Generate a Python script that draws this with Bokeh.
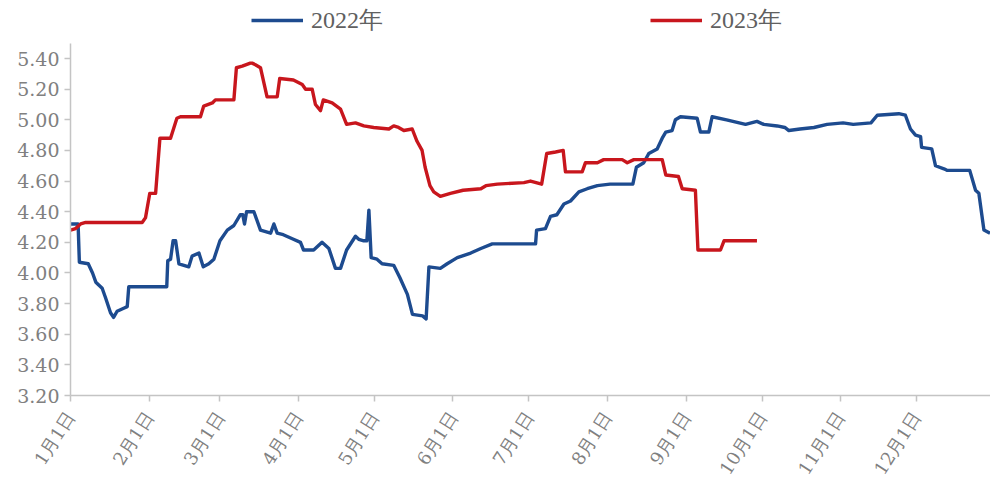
from bokeh.plotting import figure
from bokeh.models import Range1d, FixedTicker, Legend, LegendItem, NumeralTickFormatter
from bokeh.embed import file_html
from bokeh.resources import INLINE

# ---- data ----
tick_days = [0, 31, 59, 90, 120, 151, 181, 212, 243, 273, 304, 334]
tick_labels = ["1月1日", "2月1日", "3月1日", "4月1日", "5月1日", "6月1日",
               "7月1日", "8月1日", "9月1日", "10月1日", "11月1日", "12月1日"]
y_ticks = [3.20, 3.40, 3.60, 3.80, 4.00, 4.20, 4.40, 4.60, 4.80, 5.00, 5.20, 5.40]

day_2022 = [0, 3, 3.5, 7, 8.7, 10, 12.5, 13.8, 15.8, 17, 18.4, 21, 22.4, 23, 38, 38.4, 39.5,
            40.5, 41.5, 42.8, 46.7, 48, 50.7, 52.4, 54.6, 56.6, 59, 61.9, 64.5, 67, 68, 68.7,
            69.5, 72.4, 75, 79, 80.3, 81.6, 84, 88, 90.8, 92, 96, 99.3, 102, 104.6, 106.6, 109,
            112.5, 113.8, 115.8, 117, 117.8, 118.7, 121, 123, 127.6, 130, 133, 135, 139, 140.4,
            141.5, 146, 148.7, 152.7, 158, 162, 166.5, 183.6, 184, 187.5, 189.5, 192, 194.8,
            197.4, 200.7, 204, 208, 213, 222, 223.4, 226.3, 228.3, 231.6, 233.6, 235, 237.5,
            238.8, 240.8, 247.4, 248.7, 252, 253.3, 259, 266.5, 271, 273.7, 279, 282, 283.6,
            288, 293.5, 298.7, 305, 309, 316, 318.5, 327, 329.6, 331.6, 333.6, 335.6, 336, 340,
            341.5, 344.8, 346, 355, 357.3, 358.6, 360.6, 363]
val_2022 = [4.32, 4.32, 4.07, 4.06, 4.00, 3.94, 3.90, 3.84, 3.74, 3.71, 3.75, 3.77, 3.78, 3.91,
            3.91, 4.08, 4.09, 4.21, 4.21, 4.06, 4.04, 4.11, 4.13, 4.04, 4.06, 4.09, 4.21, 4.28,
            4.31, 4.38, 4.38, 4.32, 4.40, 4.40, 4.28, 4.26, 4.32, 4.26, 4.25, 4.22, 4.20, 4.15,
            4.15, 4.20, 4.16, 4.03, 4.03, 4.15, 4.24, 4.22, 4.21, 4.21, 4.41, 4.10, 4.09, 4.06,
            4.05, 3.97, 3.86, 3.73, 3.72, 3.70, 4.04, 4.03, 4.06, 4.10, 4.13, 4.16, 4.19, 4.19,
            4.28, 4.29, 4.37, 4.38, 4.45, 4.47, 4.53, 4.55, 4.57, 4.58, 4.58, 4.69, 4.72, 4.78,
            4.81, 4.88, 4.92, 4.93, 5.00, 5.02, 5.01, 4.92, 4.92, 5.02, 5.00, 4.97, 4.99, 4.97,
            4.96, 4.95, 4.93, 4.94, 4.95, 4.97, 4.98, 4.97, 4.98, 5.03, 5.04, 5.03, 4.94, 4.90,
            4.89, 4.82, 4.81, 4.70, 4.68, 4.67, 4.67, 4.54, 4.52, 4.28, 4.26]

day_2023 = [0, 2, 4, 6, 28.3, 29.6, 31.3, 33.6, 35.3, 39.5, 42, 43.4, 51.3, 52.6, 56, 57.2, 64.5,
            65.5, 67.8, 71, 71.7, 73, 75, 77.6, 81.6, 82.6, 88, 91.5, 92.8, 95.4, 96.7, 98.7,
            99.8, 103.3, 106.6, 109, 112.5, 115.8, 119.7, 125.7, 127.6, 129.5, 131.6, 134.9,
            136.8, 138.8, 140, 141.9, 143.4, 146, 150, 155, 162, 164, 168.5, 179, 181.6, 186,
            188, 191.5, 194.5, 195.4, 202, 203.3, 208, 210.5, 217.8, 219.8, 222.4, 233.6, 235,
            240, 241.5, 246.7, 247.7, 256.6, 258, 271]
val_2023 = [4.28, 4.29, 4.32, 4.33, 4.33, 4.36, 4.52, 4.52, 4.88, 4.88, 5.01, 5.02, 5.02, 5.09,
            5.11, 5.13, 5.13, 5.34, 5.35, 5.37, 5.37, 5.36, 5.34, 5.15, 5.15, 5.27, 5.26, 5.23,
            5.20, 5.20, 5.10, 5.06, 5.13, 5.11, 5.07, 4.97, 4.98, 4.96, 4.95, 4.94, 4.96, 4.95,
            4.93, 4.94, 4.86, 4.80, 4.69, 4.57, 4.53, 4.50, 4.52, 4.54, 4.55, 4.57, 4.58, 4.59,
            4.60, 4.58, 4.78, 4.79, 4.80, 4.66, 4.66, 4.72, 4.72, 4.74, 4.74, 4.72, 4.74, 4.74,
            4.64, 4.63, 4.55, 4.54, 4.15, 4.15, 4.21, 4.21]

series_names = ["2022年", "2023年"]
series_colors = ["#1d4b8f", "#c8161d"]

# ---- figure ----
# frame extends into the top border so the legend can live there; axis line is bounded
p = figure(width=990, height=502, output_backend="svg", toolbar_location=None,
           x_range=Range1d(0, 363.2), y_range=Range1d(3.2, 5.779),
           min_border_left=70, min_border_right=0, min_border_top=0, min_border_bottom=107)
p.background_fill_color = "white"
p.border_fill_color = "white"
p.outline_line_color = None
p.xgrid.visible = False
p.ygrid.visible = False

r1 = p.line(day_2022, val_2022, color=series_colors[0], line_width=3.4, line_join="round")
r2 = p.line(day_2023, val_2023, color=series_colors[1], line_width=3.4, line_join="round")

for ax in (p.xaxis[0], p.yaxis[0]):
    ax.axis_line_color = "#c4c4c4"
    ax.axis_line_width = 1.5
    ax.major_tick_line_color = "#c4c4c4"
    ax.major_tick_line_width = 1.5
    ax.major_tick_in = 0
    ax.major_tick_out = 6
    ax.minor_tick_line_color = None
    ax.major_label_text_font = "DejaVu Serif"
    ax.major_label_text_color = "#808080"

p.xaxis.ticker = FixedTicker(ticks=tick_days)
p.xaxis.major_label_overrides = {d: lab for d, lab in zip(tick_days, tick_labels)}
p.xaxis.major_label_orientation = 1.0
p.xaxis.major_label_standoff = 12
p.xaxis.major_label_text_font_size = "18px"

p.yaxis.ticker = FixedTicker(ticks=y_ticks)
p.yaxis.formatter = NumeralTickFormatter(format="0.00")
p.yaxis.major_label_standoff = 5
p.yaxis.major_label_text_font_size = "19px"
p.yaxis.bounds = (3.2, 5.498)

legend = Legend(items=[LegendItem(label=series_names[0], renderers=[r1]),
                       LegendItem(label=series_names[1], renderers=[r2])],
                orientation="horizontal", location=(181, 359), spacing=267,
                glyph_width=52, glyph_height=20, label_standoff=8,
                label_text_font="Liberation Serif", label_text_font_size="24px",
                label_text_color="#606060", border_line_color=None,
                background_fill_alpha=0, padding=0, margin=0)
p.add_layout(legend)

open("out.html", "w").write(file_html(p, INLINE))
